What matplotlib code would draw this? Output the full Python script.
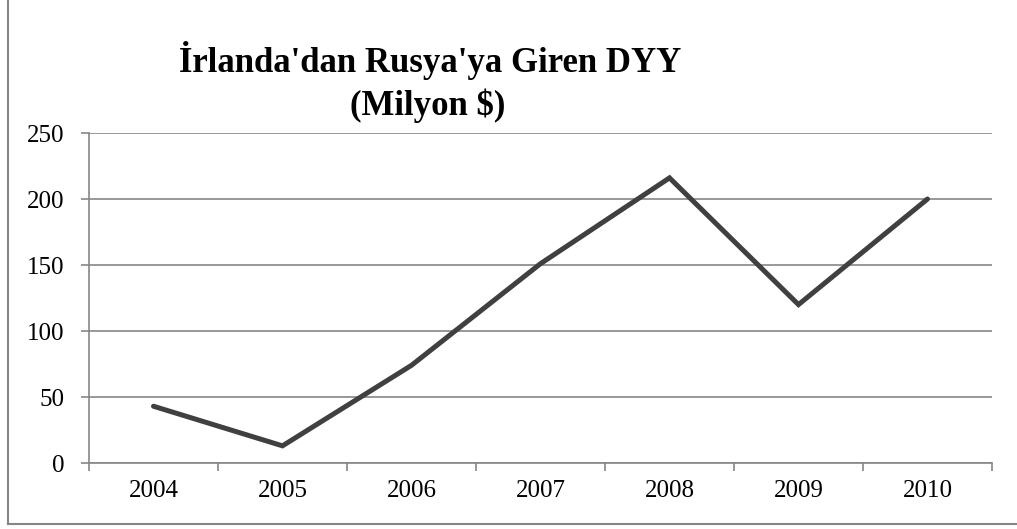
import matplotlib.pyplot as plt
from matplotlib.lines import Line2D

# Dados
anos = ['2004', '2005', '2006', '2007', '2008', '2009', '2010']
dyy = [43, 13, 74, 151, 216, 120, 200]
yticks = [0, 50, 100, 150, 200, 250]

plt.rcParams['font.family'] = ['Liberation Serif', 'DejaVu Serif']

fig = plt.figure(figsize=(10.17, 5.29), dpi=100)
ax = fig.add_axes([89 / 1017, 1 - 463 / 529, (992 - 89) / 1017, (463 - 133) / 529])

x = list(range(len(anos)))
ax.plot(x, dyy, color='#404040', linewidth=3.6, solid_capstyle='round', solid_joinstyle='miter')

ax.set_xlim(-0.5, len(anos) - 0.5)
ax.set_ylim(0, 250)
ax.set_yticks(yticks)
ax.set_yticklabels([str(v) for v in yticks], fontsize=18)
ax.yaxis.grid(True, color='#868686', linewidth=1.2)
ax.set_axisbelow(True)

# eixo de categorias: marcas nas divisórias
ax.set_xticks(x)
ax.set_xticklabels(anos, fontsize=18)
ax.tick_params(axis='x', which='major', length=0, pad=12)
ax.set_xticks([i - 0.5 for i in range(len(anos) + 1)], minor=True)
ax.tick_params(axis='x', which='minor', length=5.5, color='#868686', width=1.2)
ax.tick_params(axis='y', length=5.5, color='#868686', width=1.2, pad=12)

for s in ['top', 'right']:
    ax.spines[s].set_visible(False)
for s in ['left', 'bottom']:
    ax.spines[s].set_color('#868686')
    ax.spines[s].set_linewidth(1.2)

# título em duas linhas
fig.text(430 / 1017, 1 - 72 / 529, "İrlanda'dan Rusya'ya Giren DYY",
         ha='center', va='baseline', fontsize=25, fontweight='bold')
fig.text(428 / 1017, 1 - 115 / 529, "(Milyon $)",
         ha='center', va='baseline', fontsize=25, fontweight='bold')

# borda externa
fig.add_artist(Line2D([8 / 1017, 8 / 1017], [1, 1 - 524 / 529], color='#868686', linewidth=1.5))
fig.add_artist(Line2D([8 / 1017, 1], [1 - 524 / 529, 1 - 524 / 529], color='#868686', linewidth=1.5))

fig.savefig('out.png', dpi=100)
